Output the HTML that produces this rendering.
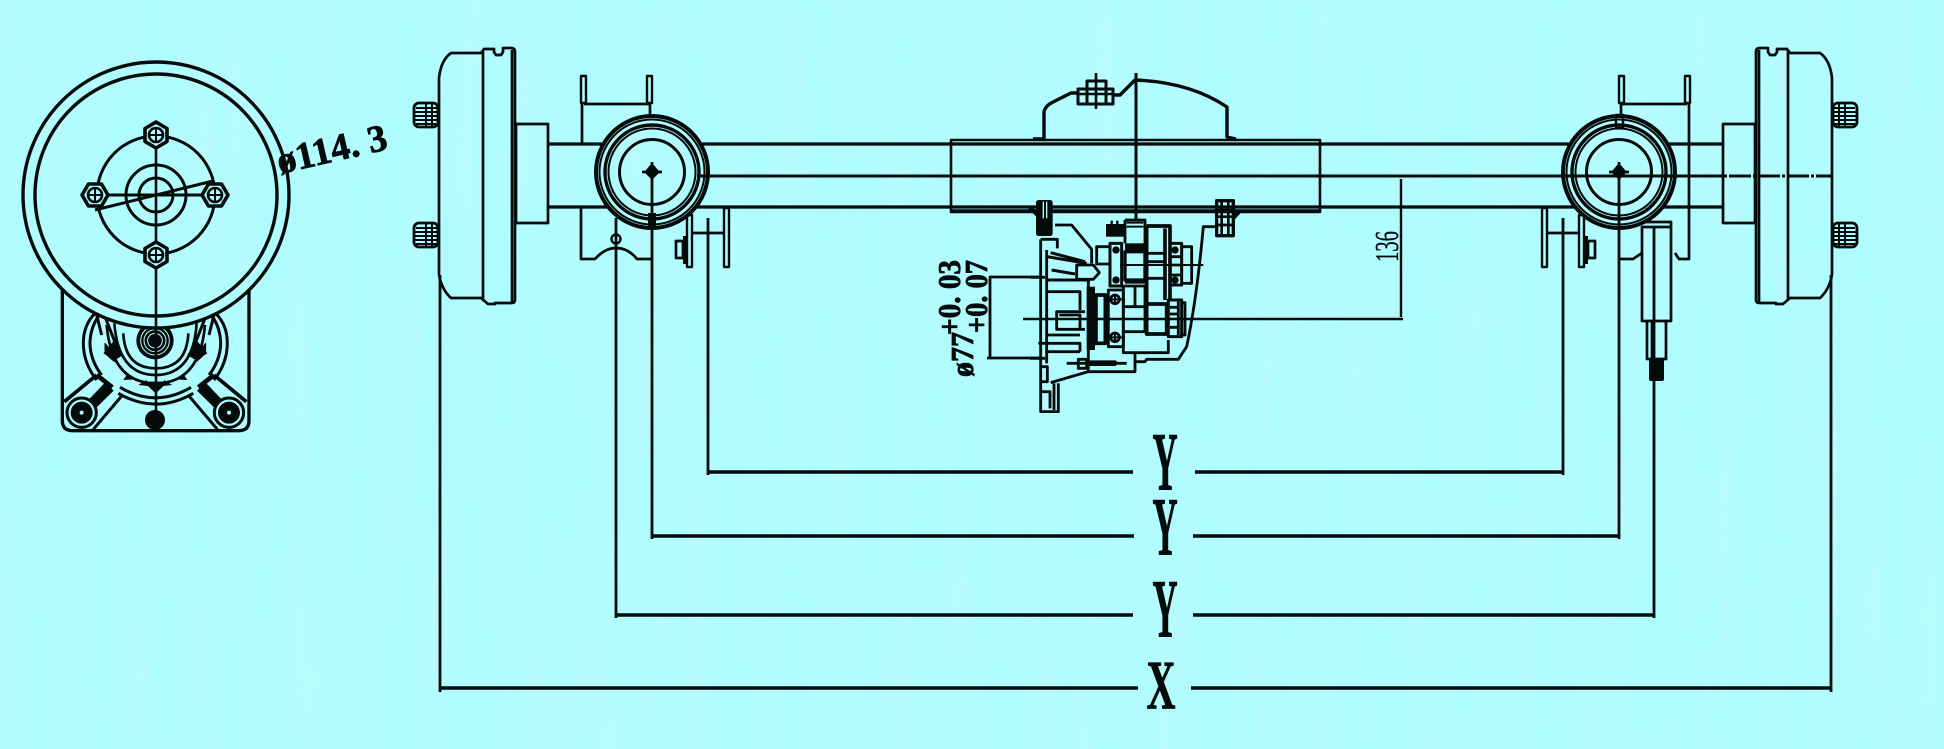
<!DOCTYPE html>
<html><head><meta charset="utf-8"><style>
html,body{margin:0;padding:0;background:#aefcff;width:1944px;height:749px;overflow:hidden}
svg{display:block}
text{font-family:"Liberation Serif",serif;fill:#050a0a;stroke:#050a0a}
</style></head><body>
<svg width="1944" height="749" viewBox="0 0 1944 749" xmlns="http://www.w3.org/2000/svg">
<defs>
<filter id="st" x="0" y="0" width="100%" height="100%"><feTurbulence type="fractalNoise" baseFrequency="0.035 0.0035" numOctaves="3" seed="7"/><feColorMatrix values="0 0 0 0 0.62  0 0 0 0 0.95  0 0 0 0 0.98  1.6 0 0 0 -0.62"/></filter>
<clipPath id="outw"><path clip-rule="evenodd" d="M0 0H400V500H0ZM156 62a133 133 0 1 0 .01 0Z"/></clipPath>
<g id="stud"><rect x="414" y="-12" width="24" height="24" rx="5" fill="none" stroke-width="2.800"/><path d="M416-7H437M415-3H437M415 1H437M415 5H437M416 9H437M426-11V11M432-11V11" stroke-width="2"/></g>
<g id="drum"><path d="M439 275V78Q441 60 451 53H481L484 49H494V52L496 55H501L503 52V48H511Q515 48 515 52V300Q515 303 511 303H495V304H488L481 298H451Q442 290 439 275"/><path d="M483 50V300M512 50V302"/><path d="M516 124H548V223H516Z"/><use href="#stud" y="115"/><use href="#stud" y="235"/></g>
<g id="hub"><circle cx="652" cy="172" r="56" stroke-width="4"/><circle cx="652" cy="172" r="52.500" stroke-width="2"/><circle cx="652" cy="172" r="47" stroke-width="3.400"/><circle cx="652" cy="172" r="43.500" stroke-width="2"/><circle cx="652" cy="172" r="32.500" stroke-width="3"/><path d="M646 172L652 165L658 172L652 178Z" fill="#050a0a"/><path d="M642 172H662M652 162V180"/></g>
<g id="topbr"><path d="M581 76H586V103H581ZM647 76H652V103H647Z" stroke-width="2.400"/><path d="M584 104H649M650 104V116"/></g>
<g id="sbr"><path d="M687 215H692V267H687ZM724 208H729V267H724Z" stroke-width="2.400"/><path d="M692 233H724"/><path d="M676 241H683V258H676Z"/><path d="M685 236V264" stroke-width="4"/></g>
<g id="hx"><path d="M0-13L11-6.500V6.500L0 13L-11 6.500V-6.500Z" fill="#aefcff" stroke-width="3.600"/><circle r="7" fill="#aefcff" stroke-width="2.600"/><path d="M-7 0H7M0-7V7" stroke-width="2"/></g>
<g id="lt">
<path d="M85 130C85 90 100 60 120 40M105 130C105 100 115 70 130 50M125 240C100 210 85 170 85 130M105 130C105 165 120 200 140 225" stroke-width="9"/>
<path d="M125 45L140 105M150 50L195 165" stroke-width="9"/>
<path d="M150 130L178 165L178 185L150 160Z" fill="#050a0a" stroke-width="3"/>
<path d="M178 120L145 160L180 180L205 165Z" fill="#050a0a" stroke="none"/>
<path d="M28 305L125 225" stroke-width="11"/>
<path d="M125 225L172 262" stroke-width="14"/>
<path d="M100 300L150 248L176 272L125 322Z" fill="#050a0a" stroke="none"/>
<path d="M115 388L200 288" stroke-width="9"/>
<circle cx="80" cy="338" r="44" fill="#aefcff" stroke-width="9"/>
<circle cx="80" cy="338" r="33" fill="#050a0a" stroke="none"/>
<circle cx="80" cy="338" r="6" fill="#aefcff" stroke="none"/>
<path d="M215 225L245 238L205 240ZM250 255L275 240L278 258Z" fill="#050a0a" stroke="none"/>
</g>
</defs>
<rect width="1944" height="749" fill="#aefcff"/>
<rect width="1944" height="749" filter="url(#st)" opacity=".45"/>
<g fill="none" stroke="#050a0a" stroke-width="2.700" stroke-linejoin="round" stroke-linecap="butt">

<!-- left view lower -->
<g clip-path="url(#outw)">
<g transform="translate(55 300) scale(.3333)" stroke-width="8">
<path d="M22-30V362Q22 392 52 392H552Q582 392 582 362V-30" stroke-width="10"/>
<use href="#lt"/><use href="#lt" transform="translate(602 0) scale(-1 1)"/>
<path d="M190 280Q302 345 415 280M195 262Q302 325 408 262" stroke-width="9"/>
<path d="M155 75Q170 250 302 250Q435 250 450 75M178 70Q190 225 302 225Q415 225 425 70M205 100Q210 205 302 205Q395 205 400 100" stroke-width="8"/>
<path d="M265 245H340L302 280Z" fill="#050a0a" stroke="none"/>
<circle cx="300" cy="122" r="56" fill="#050a0a" stroke="none"/>
<circle cx="300" cy="122" r="43" stroke="#aefcff" stroke-width="3"/>
<circle cx="300" cy="122" r="33" stroke="#aefcff" stroke-width="3"/>
<circle cx="300" cy="122" r="22" stroke="#aefcff" stroke-width="3"/>
<circle cx="300" cy="360" r="30" fill="#050a0a" stroke="none"/>
</g>
</g>

<!-- wheel front -->
<circle cx="156" cy="195" r="133" stroke-width="3.400"/>
<circle cx="156" cy="195" r="121" stroke-width="3.400"/>
<circle cx="156" cy="195" r="59" stroke-width="3"/>
<circle cx="156" cy="195" r="30" stroke-width="3"/>
<circle cx="156" cy="195" r="17" stroke-width="3"/>
<path d="M83 195H228" stroke-width="3"/>
<path d="M95 210L213 181" stroke-width="3"/>
<path d="M156 122V427" stroke-width="2.600"/>
<use href="#hx" transform="translate(156 135)"/>
<use href="#hx" transform="translate(156 255)"/>
<use href="#hx" transform="translate(95 195) rotate(90)"/>
<use href="#hx" transform="translate(215 195) rotate(90)"/>

<!-- drums, hubs, brackets -->
<use href="#drum"/><use href="#drum" transform="translate(2271 0) scale(-1 1)"/>
<use href="#hub"/><use href="#hub" transform="translate(2271 0) scale(-1 1)"/>
<use href="#topbr"/><use href="#topbr" transform="translate(2271 0) scale(-1 1)"/>
<use href="#sbr"/><use href="#sbr" transform="translate(2271 0) scale(-1 1)"/>

<!-- tube -->
<path d="M548 144H602M702 144H1569M1669 144H1722M548 207H607M697 207H1574M1664 207H1722" stroke-width="3.200"/>
<path d="M697 176H1700" stroke-width="3"/>
<path d="M1700 176H1833" stroke-width="3" stroke-dasharray="22 2 3 2"/>
<path d="M582 104V143M581 208V259H595Q605 248 616 248Q628 248 637 259H651"/>
<path d="M1689 102V259H1679L1675 253M1620 259H1633L1642 253"/>
<rect x="648" y="213" width="8" height="16" fill="#050a0a" stroke="none"/>
<rect x="1616" y="115" width="7" height="13" stroke-width="2.400"/>
<circle cx="616" cy="239" r="4.500" stroke-width="2.400"/>

<!-- center box + hump -->
<rect x="951" y="140" width="369" height="72" stroke-width="2.600"/>
<path d="M951 211H1320" stroke-width="3.400"/>
<path d="M1033 139H1044V112Q1045 106 1053 102L1071 93H1078M1113 95H1120L1135 80Q1190 82 1227 107V137L1236 139" stroke-width="3.400"/>
<path d="M1078 89H1113V104H1078ZM1087 81H1106V104H1087Z" stroke-width="3"/><path d="M1096 73V109M1078 94H1113" stroke-width="2.600"/>
<path d="M1136 73V220" stroke-width="3"/>

<!-- shaft -->
<path d="M1642 227H1671V321H1642ZM1642 222H1671V227M1647 321V359H1666V321M1652 321V359"/>
<rect x="1649" y="359" width="15" height="22" rx="2" fill="#050a0a" stroke="none"/>

<!-- gearbox -->
<g transform="translate(1030 200) scale(.3333)" stroke-width="8.500">
<rect x="18" y="0" width="50" height="108" rx="8" fill="#050a0a" stroke="none"/>
<path d="M40 5V55M50 5V55" stroke="#aefcff" stroke-width="4"/>
<rect x="560" y="2" width="50" height="105" stroke-width="10"/>
<path d="M560 30H610M560 50H610M560 75H610M575 2V105M595 2V105" stroke-width="8"/>
<path d="M0 35H20M65 35H560" stroke-width="8"/>
<path d="M0 25L20 45V35ZM610 35L630 35L612 55Z" fill="#050a0a"/>
<path d="M75 75H125L185 148V190"/>
<path d="M32 118H82V145M32 118V635H85V550M50 150V490M35 500H52V545H35M35 575H60V625M72 550V630"/>
<path d="M50 170L170 190M62 158L165 185M65 210L135 222M50 240H180" stroke-width="9"/>
<path d="M140 195H190L208 218L190 238H140Z"/>
<path d="M0 232H45M0 475H45M50 275H150V330M50 405H150M25 430H150V455M50 455H150"/>
<path d="M165 335H80V388H165M88 345H150V385"/>
<rect x="170" y="260" width="25" height="190" fill="#050a0a" stroke="none"/>
<rect x="198" y="285" width="28" height="145" stroke-width="11"/>
<path d="M62 548L175 515V240"/>
<path d="M145 478H170V505H145Z"/>
<rect x="172" y="481" width="88" height="17" rx="5" fill="#050a0a" stroke="none"/>
<path d="M110 490H290M175 515H315V458"/>
<path d="M315 485H345L350 478H445L470 440Q500 300 520 80H555"/>
<path d="M235 270H280V440H235Z"/>
<circle cx="255" cy="298" r="13" fill="#aefcff"/><circle cx="255" cy="412" r="13" fill="#aefcff"/>
<path d="M235 298H285M235 412H285M255 283V312M255 397V427" stroke-width="6"/>
<path d="M280 258H345V320M315 258V320M280 258V458H415V420M280 320H345V395H355M280 395H345"/>
<rect x="228" y="72" width="57" height="38" fill="#050a0a" stroke="none"/>
<path d="M245 62V110M262 62V110" stroke-width="7"/>
<path d="M285 60H345V130M285 60V130"/>
<path d="M290 68H340M290 80H340" stroke-width="6"/>
<rect x="285" y="130" width="60" height="26" fill="#050a0a" stroke="none"/>
<rect x="285" y="155" width="60" height="85" stroke-width="10"/>
<path d="M285 245H345" stroke-width="12"/>
<path d="M350 78H420V300M350 78V310M405 85V300" stroke-width="11"/>
<path d="M355 160H405M355 185H405M355 235H405"/>
<rect x="350" y="312" width="60" height="90" stroke-width="11"/>
<rect x="420" y="130" width="35" height="125" stroke-width="9"/>
<circle cx="435" cy="150" r="11" fill="#050a0a" stroke="none"/><circle cx="435" cy="240" r="11" fill="#050a0a" stroke="none"/>
<path d="M420 170H455M420 195H455M420 225H455"/>
<path d="M455 140H485V250H455"/>
<rect x="240" y="130" width="35" height="128" stroke-width="9"/>
<circle cx="258" cy="150" r="11" fill="#050a0a" stroke="none"/><circle cx="258" cy="240" r="11" fill="#050a0a" stroke="none"/>
<path d="M240 140H200V192H240"/>
<path d="M270 195H520" stroke-width="6"/>
<rect x="415" y="300" width="40" height="110" stroke-width="9"/>
<path d="M420 322H445M420 342H445M420 382H445M445 305V405"/>
<path d="M455 308H465V405H455"/>
</g>

<!-- small dims -->
<path d="M1023 319H1403M1401 179V317" stroke-width="2.400"/>
<path d="M1040 277H990V358H1040M987 358H990" stroke-width="2.800"/>

<!-- long dimension lines -->
<g stroke-width="2.800">
<path d="M440 275V692M1831 275V692M616 218V618M1654 227V618M652 172V539M1619 172V539M708 218V475M1563 218V475"/>
</g>
<g stroke-width="3.600">
<path d="M708 472H1133M1195 472H1563M652 536H1134M1193 536H1619M616 615H1133M1193 615H1654M440 688H1138M1191 688H1831"/>
</g>
</g>

<g font-weight="bold" stroke-width=".5">
<text transform="translate(1165 489.500) scale(.87 2.06)" font-size="40" text-anchor="middle">Y</text>
<text transform="translate(1165 554.500) scale(.87 2.06)" font-size="40" text-anchor="middle">Y</text>
<text transform="translate(1165 636.500) scale(.87 2.06)" font-size="40" text-anchor="middle">Y</text>
<text transform="translate(1161 708.500) scale(1 1.74)" font-size="40" text-anchor="middle">X</text>
<g stroke-width=".8">
<text transform="translate(280 174) rotate(-13)" font-size="38" textLength="112" lengthAdjust="spacingAndGlyphs">ø114. 3</text>
<text transform="translate(960 335) rotate(-90)" font-size="32" textLength="75" lengthAdjust="spacingAndGlyphs">+0. 03</text>
<text transform="translate(987 333) rotate(-90)" font-size="32" textLength="73" lengthAdjust="spacingAndGlyphs">+0. 07</text>
<text transform="translate(973 377) rotate(-90)" font-size="32" textLength="45" lengthAdjust="spacingAndGlyphs">ø77</text>
</g>
</g>
<text transform="translate(1398 262) rotate(-90)" font-size="34" stroke-width=".3" textLength="31" lengthAdjust="spacingAndGlyphs">136</text>
</svg>
</body></html>
